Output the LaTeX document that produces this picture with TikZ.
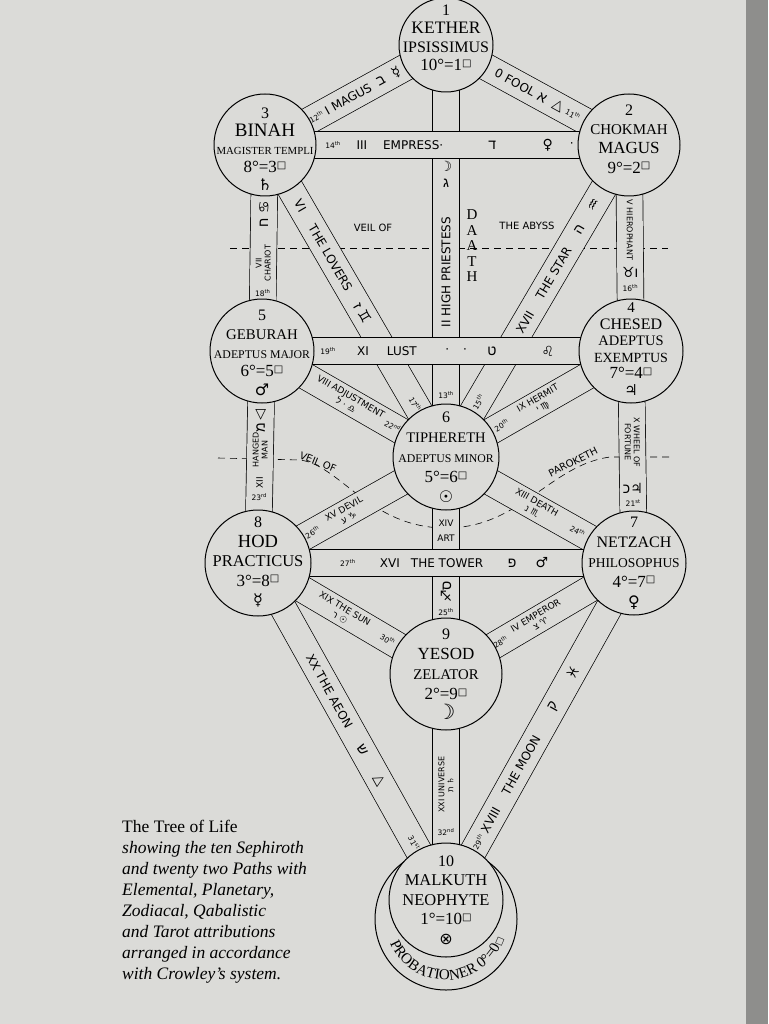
\documentclass[tikz,border=0pt]{standalone}
\usepackage{fontspec}
\setmainfont{Liberation Serif}
\newfontfamily\bandfont{DejaVu Sans}
\newfontfamily\astrofont{DejaVu Sans}
\newfontfamily\hebfont[Script=Hebrew]{Liberation Sans}
\usetikzlibrary{decorations.text}

\definecolor{paper}{RGB}{219,219,216}
\definecolor{pageedge}{RGB}{142,142,140}

\newcommand\fs[1]{\fontsize{#1}{18}\selectfont}
\newcommand\grade[2]{{\fs{17}#1°=#2\raisebox{.55ex}{\astrofont\fontsize{10}{10}\selectfont □}}}
\newcommand\hb[1]{{\hebfont #1}}
\newcommand\sy[1]{{\astrofont #1}}
\newcommand\ord[2]{#1\textsuperscript{#2}}

\tikzstyle{band} = [draw=black, line width=0.7pt, double=paper, double distance=26pt]
\tikzstyle{sephira} = [circle, draw=black, line width=1pt, fill=paper, inner sep=0pt]
\tikzstyle{seftext} = [align=center, inner sep=0pt]
\tikzstyle{lbl} = [inner sep=0pt, font=\bandfont\fontsize{12}{13}\selectfont]
\tikzstyle{glyph} = [inner sep=0pt, font=\bandfont\fontsize{14}{14}\selectfont]
\tikzstyle{lbls} = [inner sep=0pt, align=center, font=\bandfont\fontsize{9}{10}\selectfont]
\tikzstyle{lbll} = [inner sep=0pt, align=center, font=\bandfont\fontsize{8}{9}\selectfont]
\tikzstyle{num} = [inner sep=0pt, font=\bandfont\fontsize{7.5}{8}\selectfont]
\tikzstyle{veil} = [line width=0.6pt, dash pattern=on 7pt off 5pt]

\begin{document}
\begin{tikzpicture}[x=1pt, y=-1pt]
  \fill[paper] (0,0) rectangle (768,1024);
  \fill[pageedge] (746,0) rectangle (768,1024);
  \useasboundingbox (0,0) rectangle (768,1024);

  \coordinate (k) at (446,45);
  \coordinate (ch) at (629,145);
  \coordinate (b) at (265,145);
  \coordinate (chs) at (631,351);
  \coordinate (g) at (262,351);
  \coordinate (t) at (446,457);
  \coordinate (n) at (634,563);
  \coordinate (h) at (258,563);
  \coordinate (y) at (446,674);
  \coordinate (m) at (446,900);
  \coordinate (ring) at (446,919);

  \draw[veil] (230,248) -- (668,248);
  \draw[veil] (218,458) -- (300,460) .. controls (340,465) and (370,528) .. (446,528) .. controls (520,528) and (550,465) .. (610,457) -- (672,457);

  \draw[band] (k) -- (t)
    node[glyph, pos=0.294] {\sy{☽}}
    node[glyph, pos=0.335] {\hb{ג}}
    node[lbl, pos=0.551, rotate=90] {II HIGH PRIESTESS}
    node[num, pos=0.85] {\ord{13}{th}};
  \draw[band] (k) -- (b)
    node[glyph, sloped, pos=0.275] {\sy{☿}}
    node[glyph, sloped, pos=0.36] {\hb{ב}}
    node[lbl, sloped, pos=0.54] {I MAGUS}
    node[num, sloped, pos=0.716] {\ord{12}{th}};
  \draw[band] (k) -- (ch)
    node[lbl, sloped, pos=0.377] {0 FOOL}
    node[glyph, sloped, pos=0.525] {\hb{א}}
    node[glyph, sloped, pos=0.612] {\sy{△}}
    node[num, sloped, pos=0.694] {\ord{11}{th}};
  \draw[band] (b) -- (g)
    node[glyph, pos=0.30, rotate=90] {\sy{♋}}
    node[glyph, pos=0.38, rotate=90] {\hb{ח}}
    node[lbll, pos=0.573, rotate=90] {VII\\CHARIOT}
    node[num, pos=0.718] {\ord{18}{th}};
  \draw[band] (ch) -- (chs)
    node[lbll, pos=0.413, rotate=-90] {V HIEROPHANT}
    node[glyph, pos=0.62] {\sy{♉}\hb{ו}}
    node[num, pos=0.694] {\ord{16}{th}};
  \draw[band] (b) -- (t)
    node[lbl, sloped, pos=0.195] {VI}
    node[lbl, sloped, pos=0.362] {THE LOVERS}
    node[glyph, sloped, pos=0.538] {\hb{ז}\ \sy{♊}}
    node[num, sloped, pos=0.83] {\ord{17}{th}};
  \draw[band] (ch) -- (t)
    node[glyph, sloped, pos=0.192] {\sy{♒}}
    node[glyph, sloped, pos=0.272] {\hb{ה}}
    node[lbl, sloped, pos=0.412] {THE STAR}
    node[lbl, sloped, pos=0.568] {XVII}
    node[num, sloped, pos=0.823] {\ord{15}{th}};
  \draw[band] (g) -- (t)
    node[lbls, sloped, pos=0.47] {VIII ADJUSTMENT\\\hb{ל} · \sy{♎}}
    node[num, sloped, pos=0.71] {\ord{22}{nd}};
  \draw[band] (chs) -- (t)
    node[lbls, sloped, pos=0.49] {IX HERMIT\\\hb{י}\ \sy{♍}}
    node[num, sloped, pos=0.70] {\ord{20}{th}};
  \draw[band] (g) -- (h)
    node[glyph, pos=0.30] {\sy{▽}}
    node[glyph, pos=0.363, rotate=90] {\hb{מ}}
    node[lbll, pos=0.467, rotate=90] {HANGED\\MAN}
    node[lbls, pos=0.623, rotate=90] {XII}
    node[num, pos=0.689] {\ord{23}{rd}};
  \draw[band] (chs) -- (n)
    node[lbll, pos=0.43, rotate=-90] {X WHEEL OF\\FORTUNE}
    node[glyph, pos=0.646] {\hb{כ}\sy{♃}}
    node[num, pos=0.717] {\ord{21}{st}};
  \draw[band] (t) -- (h)
    node[lbls, sloped, pos=0.53] {XV DEVIL\\\hb{ע}\ \sy{♑}}
    node[num, sloped, pos=0.71] {\ord{26}{th}};
  \draw[band] (t) -- (n)
    node[lbls, sloped, pos=0.47] {XIII DEATH\\\hb{נ}\ \sy{♏}}
    node[num, sloped, pos=0.70] {\ord{24}{th}};
  \draw[band] (t) -- (y)
    node[lbls, pos=0.304] {XIV}
    node[lbls, pos=0.373] {ART}
    node[glyph, pos=0.622, rotate=90] {\sy{♐}\hb{ס}}
    node[num, pos=0.714] {\ord{25}{th}};
  \draw[band] (h) -- (y)
    node[lbls, sloped, pos=0.45] {XIX THE SUN\\\hb{ר}\ \sy{☉}}
    node[num, sloped, pos=0.69] {\ord{30}{th}};
  \draw[band] (n) -- (y)
    node[lbls, sloped, pos=0.51] {IV EMPEROR\\\hb{צ}\ \sy{♈}}
    node[num, sloped, pos=0.71] {\ord{28}{th}};
  \draw[band] (h) -- (m)
    node[lbl, sloped, pos=0.38] {XX THE AEON}
    node[glyph, sloped, pos=0.555] {\hb{ש}}
    node[glyph, sloped, pos=0.644] {\sy{△}}
    node[num, sloped, pos=0.83] {\ord{31}{st}};
  \draw[band] (n) -- (m)
    node[glyph, sloped, pos=0.326] {\sy{♓}}
    node[glyph, sloped, pos=0.427] {\hb{ק}}
    node[lbl, sloped, pos=0.60] {THE MOON}
    node[lbl, sloped, pos=0.763] {XVIII}
    node[num, sloped, pos=0.828] {\ord{29}{th}};
  \draw[band] (y) -- (m)
    node[lbll, pos=0.49, rotate=90] {XXI UNIVERSE\\\hb{ת}\ \sy{♄}}
    node[num, pos=0.70] {\ord{32}{nd}};

  \draw[band] (b) -- (ch)
    node[num, pos=0.187] {\ord{14}{th}}
    node[lbl, pos=0.266] {III}
    node[lbl, pos=0.407] {EMPRESS·}
    node[glyph, pos=0.624] {\hb{ד}}
    node[glyph, pos=0.777] {\sy{♀}}
    node[lbl, pos=0.843] {·};
  \draw[band] (g) -- (chs)
    node[num, pos=0.179] {\ord{19}{th}}
    node[lbl, pos=0.274] {XI}
    node[lbl, pos=0.379] {LUST}
    node[lbl, pos=0.526] {·\hspace{14pt}·}
    node[glyph, pos=0.623] {\hb{ט}}
    node[glyph, pos=0.775] {\sy{♌}};
  \draw[band] (h) -- (n)
    node[num, pos=0.239] {\ord{27}{th}}
    node[lbl, pos=0.351] {XVI}
    node[lbl, pos=0.503] {THE TOWER}
    node[glyph, pos=0.676] {\hb{פ}}
    node[glyph, pos=0.755] {\sy{♂}};

  \node[sephira, minimum size=94pt] (kether) at (k) {};
  \node[sephira, minimum size=102pt] (chokmah) at (ch) {};
  \node[sephira, minimum size=102pt] (binah) at (b) {};
  \node[sephira, minimum size=104pt] (chesed) at (chs) {};
  \node[sephira, minimum size=104pt] (geburah) at (g) {};
  \node[sephira, minimum size=106pt] (tiphereth) at (t) {};
  \node[sephira, minimum size=104pt] (netzach) at (n) {};
  \node[sephira, minimum size=106pt] (hod) at (h) {};
  \node[sephira, minimum size=112pt] (yesod) at (y) {};
  \node[sephira, minimum size=142pt] (probationer) at (ring) {};
  \node[sephira, minimum size=114pt] (malkuth) at (m) {};

  \node[seftext, font=\fontsize{16}{18.5}\selectfont, yshift=7pt] (kether text) at (k) {1\\{\fs{17.5}KETHER}\\{\fs{16}IPSISSIMUS}\\\grade{10}{1}};
  \node[seftext, font=\fontsize{16}{19.3}\selectfont, yshift=6pt] (chokmah text) at (ch) {2\\{\fs{15}CHOKMAH}\\{\fs{17}MAGUS}\\\grade{9}{2}};
  \node[seftext, font=\fontsize{16}{18}\selectfont, yshift=-4pt] (binah text) at (b) {3\\{\fs{19}BINAH}\\{\fs{10.8}MAGISTER TEMPLI}\\\grade{8}{3}\\\sy{♄}};
  \node[seftext, font=\fontsize{15}{16.5}\selectfont, yshift=2pt] (chesed text) at (chs) {4\\{\fs{16}CHESED}\\{\fs{14.5}ADEPTUS}\\{\fs{14}EXEMPTUS}\\\grade{7}{4}\\\sy{♃}};
  \node[seftext, font=\fontsize{16}{18.7}\selectfont, yshift=-2pt] (geburah text) at (g) {5\\{\fs{14.8}GEBURAH}\\{\fs{11.8}ADEPTUS MAJOR}\\\grade{6}{5}\\\sy{♂}};
  \node[seftext, font=\fontsize{16}{20}\selectfont] (tiphereth text) at (t) {6\\{\fs{14.6}TIPHERETH}\\{\fs{11.8}ADEPTUS MINOR}\\\grade{5}{6}\\\sy{☉}};
  \node[seftext, font=\fontsize{16}{20}\selectfont] (netzach text) at (n) {7\\{\fs{16}NETZACH}\\{\fs{13.5}PHILOSOPHUS}\\\grade{4}{7}\\\sy{♀}};
  \node[seftext, font=\fontsize{16}{19.5}\selectfont, yshift=1pt] (hod text) at (h) {8\\{\fs{18.5}HOD}\\{\fs{16.5}PRACTICUS}\\\grade{3}{8}\\\sy{☿}};
  \node[seftext, font=\fontsize{16}{20}\selectfont] (yesod text) at (y) {9\\{\fs{17}YESOD}\\{\fs{14.8}ZELATOR}\\\grade{2}{9}\\\sy{\fs{21}☽}};
  \node[seftext, font=\fontsize{16}{19.5}\selectfont] (malkuth text) at (m) {10\\{\fs{16.5}MALKUTH}\\{\fs{16.5}NEOPHYTE}\\\grade{1}{10}\\\sy{⊗}};

  \begin{scope}[shift={(ring)}, y=1pt]
    \path[decorate, decoration={text along path, text align=center,
      text={|\fontsize{15}{15}\selectfont|PROBATIONER 0°=0|\astrofont\fontsize{9}{9}\selectfont|□}}]
      (197:61pt) arc[start angle=197, end angle=347, radius=61pt];
  \end{scope}

  \node[lbl, font=\bandfont\fontsize{10}{12}\selectfont] (veil of) at (373,228) {VEIL OF};
  \node[lbl, font=\bandfont\fontsize{10}{12}\selectfont] (abyss) at (527,226) {THE ABYSS};
  \node[seftext, font=\fontsize{15}{15.5}\selectfont] (daath) at (472,246) {D\\A\\A\\T\\H};
  \node[lbl, font=\bandfont\fontsize{10}{12}\selectfont, rotate=-22] (veil of lower) at (318,462) {VEIL OF};
  \node[lbl, font=\bandfont\fontsize{10}{12}\selectfont, rotate=27] (paroketh) at (573,462) {PAROKETH};

  \node[anchor=north west, align=left, inner sep=0pt, font=\fontsize{17.5}{21}\selectfont] (caption) at (122,820)
    {The Tree of Life\\
     \textit{showing the ten Sephiroth}\\
     \textit{and twenty two Paths with}\\
     \textit{Elemental, Planetary,}\\
     \textit{Zodiacal, Qabalistic}\\
     \textit{and Tarot attributions}\\
     \textit{arranged in accordance}\\
     \textit{with Crowley’s system.}};
\end{tikzpicture}
\end{document}
